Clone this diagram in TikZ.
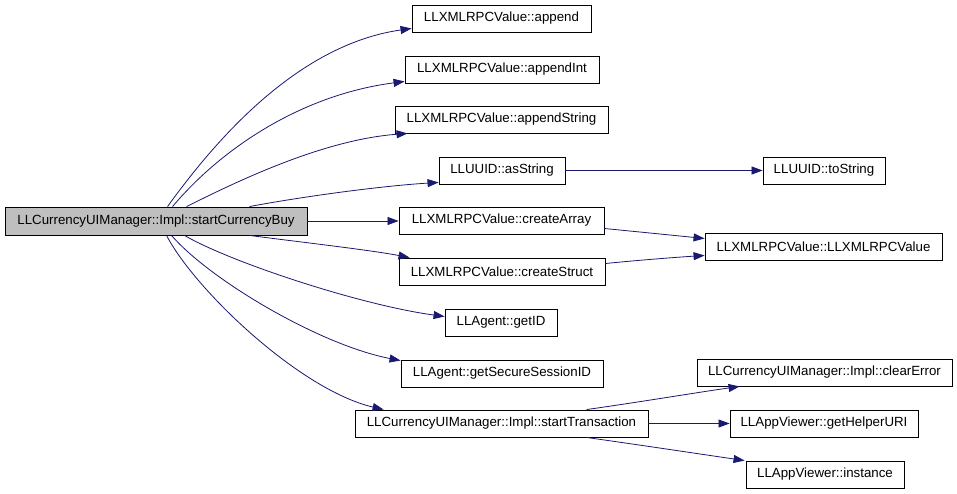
\documentclass[tikz,border=0pt]{standalone}
\usepackage{fontspec}
\setmainfont{Liberation Sans}
\usetikzlibrary{arrows.meta,calc}
\definecolor{edgeblue}{RGB}{25,25,112}
\definecolor{maingray}{RGB}{191,191,191}
\begin{document}
\begin{tikzpicture}[x=1pt,y=-1pt,
  fn/.style={draw=black, line width=0.9pt, fill=white, minimum height=27pt, inner sep=0pt,
             font=\fontsize{13.3}{16}\selectfont},
  callarrow/.style={draw=edgeblue, line width=0.8pt, -{Triangle[length=11pt,width=8pt]}, fill=none}]
\useasboundingbox[fill=white] (0,0) rectangle (957,493);

\node[fn, fill=maingray, minimum width=302pt, minimum height=28pt] (main) at (156,221) {LLCurrencyUIManager::Impl::startCurrencyBuy};
\node[fn, minimum width=179pt] (append) at (501.5,18.5) {LLXMLRPCValue::append};
\node[fn, minimum width=194pt] (appendInt) at (502,69.5) {LLXMLRPCValue::appendInt};
\node[fn, minimum width=213pt] (appendString) at (501.5,119.5) {LLXMLRPCValue::appendString};
\node[fn, minimum width=126pt] (asString) at (502,170.5) {LLUUID::asString};
\node[fn, minimum width=122pt] (toString) at (824,170.5) {LLUUID::toString};
\node[fn, minimum width=205pt] (createArray) at (501.5,220.5) {LLXMLRPCValue::createArray};
\node[fn, minimum width=206pt] (createStruct) at (502,271.5) {LLXMLRPCValue::createStruct};
\node[fn, minimum width=237pt] (ctor) at (823.5,246.5) {LLXMLRPCValue::LLXMLRPCValue};
\node[fn, minimum width=112pt] (getID) at (501,322.5) {LLAgent::getID};
\node[fn, minimum width=202pt] (getSSID) at (502,373.5) {LLAgent::getSecureSessionID};
\node[fn, minimum width=293pt] (startTx) at (501.5,423.5) {LLCurrencyUIManager::Impl::startTransaction};
\node[fn, minimum width=255pt] (clearError) at (824.5,372.5) {LLCurrencyUIManager::Impl::clearError};
\node[fn, minimum width=188pt] (helper) at (824,423.5) {LLAppViewer::getHelperURI};
\node[fn, minimum width=158pt] (instance) at (825,474.5) {LLAppViewer::instance};

\draw[callarrow] ($(main.north west)+(163,0)$) .. controls (212,145) and (295,45) .. ($(append.south west)+(0,-4)$);
\draw[callarrow] ($(main.north west)+(168,0)$) .. controls (220,150) and (300,95) .. ($(appendInt.south west)+(0,-2)$);
\draw[callarrow] ($(main.north west)+(182,0)$) .. controls (230,185) and (320,140) .. ($(appendString.south west)+(13,0)$);
\draw[callarrow] ($(main.north west)+(245,0)$) .. controls (300,197) and (380,186) .. ($(asString.south west)+(0,-2)$);
\draw[callarrow] (main.east) -- (main.east -| createArray.west);
\draw[callarrow] ($(main.south west)+(245,0)$) .. controls (300,242) and (370,250) .. ($(createStruct.north west)+(11,0)$);
\draw[callarrow] ($(main.south west)+(180,0)$) .. controls (230,262) and (360,305) .. ($(getID.west)+(0,-6)$);
\draw[callarrow] ($(main.south west)+(167,0)$) .. controls (210,280) and (320,345) .. ($(getSSID.north west)+(0,1)$);
\draw[callarrow] ($(main.south west)+(162,0)$) .. controls (195,290) and (300,390) .. ($(startTx.north west)+(29,0)$);
\draw[callarrow] (asString.east) -- (toString.west);
\draw[callarrow] ($(createArray.east)+(0,8)$) .. controls (640,232) and (680,236) .. ($(ctor.west)+(0,-8)$);
\draw[callarrow] ($(createStruct.east)+(0,-8)$) .. controls (640,260) and (680,257) .. ($(ctor.west)+(0,9)$);
\draw[callarrow] ($(startTx.north west)+(232,0)$) .. controls (640,402) and (700,392) .. ($(clearError.south west)+(43,0)$);
\draw[callarrow] (startTx.east) -- (helper.west);
\draw[callarrow] ($(startTx.south west)+(232,0)$) .. controls (640,445) and (700,454) .. ($(instance.north west)+(-1,0)$);
\end{tikzpicture}
\end{document}
